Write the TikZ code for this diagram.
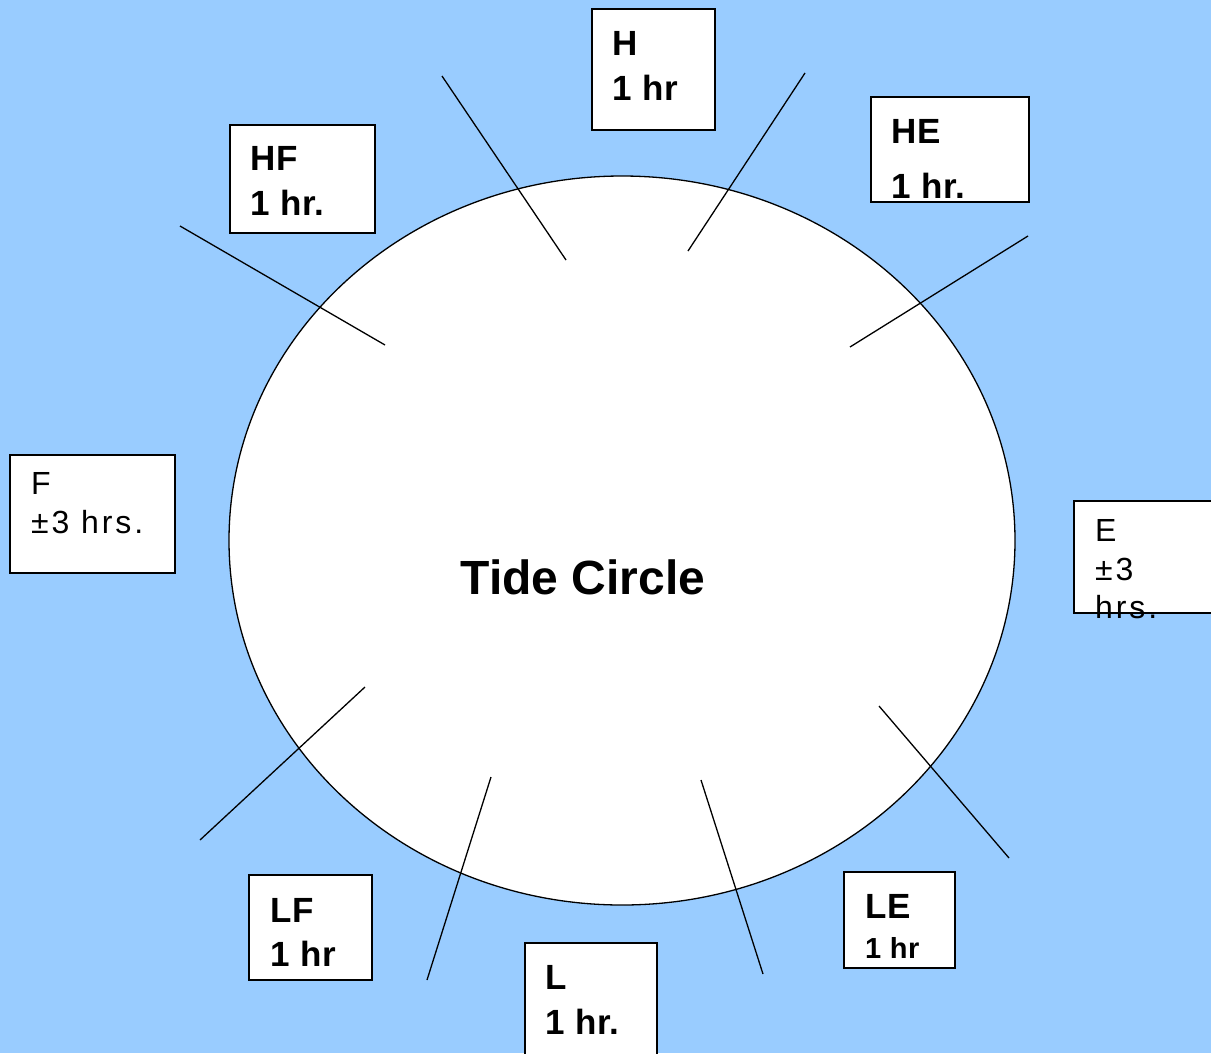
\documentclass[tikz,border=0pt]{standalone}
\usepackage{fontspec}
\setmainfont{Liberation Sans}
\usetikzlibrary{shapes.geometric}
\definecolor{skyblue}{HTML}{99CCFF}
\begin{document}
\begin{tikzpicture}[x=1pt,y=-1pt,
  box/.style={draw=black,line width=1.6pt,fill=white,anchor=north west,inner sep=0pt},
  bl/.style={anchor=base west,inner sep=0pt,font=\fontsize{35}{35}\selectfont\bfseries\addfontfeature{LetterSpace=2}},
  rl/.style={anchor=base west,inner sep=0pt,font=\fontsize{32}{32}\selectfont\addfontfeature{LetterSpace=9}},
  tick/.style={draw=black,line width=1.3pt}]
\fill[skyblue] (0,0) rectangle (1211,1053);
\useasboundingbox (0,0) rectangle (1211,1053);
% circle
\node[draw=black,line width=1.3pt,fill=white,ellipse,minimum width=786,minimum height=729,inner sep=0pt] (circ) at (622,540.5) {};
% boxes
\node[box,minimum width=123,minimum height=121] (bH) at (591,8) {};
\node[box,minimum width=158,minimum height=105] (bHE) at (870,96) {};
\node[box,minimum width=145,minimum height=108] (bHF) at (229,124) {};
\node[box,minimum width=165,minimum height=118] (bF) at (9,454) {};
\node[box,minimum width=150,minimum height=112] (bE) at (1073,500) {};
\node[box,minimum width=123,minimum height=105] (bLF) at (248,874) {};
\node[box,minimum width=132,minimum height=130] (bL) at (524,942) {};
\node[box,minimum width=111,minimum height=96] (bLE) at (843,871) {};
% labels
\node[bl] (tH1) at (612,55) {H};
\node[bl] (tH2) at (612,100) {1 hr};
\node[bl] (tHE1) at (891,143) {HE};
\node[bl] (tHE2) at (891,198) {1 hr.};
\node[bl] (tHF1) at (250,170) {HF};
\node[bl] (tHF2) at (250,215) {1 hr.};
\node[rl] (tF1) at (31,494) {F};
\node[rl] (tF2) at (31,533) {±3 hrs.};
\node[rl] (tE1) at (1095,541) {E};
\node[rl] (tE2) at (1095,580) {±3};
\node[rl] (tE3) at (1095,618) {hrs.};
\node[bl] (tLF1) at (270,922) {LF};
\node[bl] (tLF2) at (270,966) {1 hr};
\node[bl] (tL1) at (545,989) {L};
\node[bl] (tL2) at (545,1034) {1 hr.};
\node[bl] (tLE1) at (865,918) {LE};
\node[bl,font=\fontsize{29}{29}\selectfont\bfseries\addfontfeature{LetterSpace=2}] (tLE2) at (865,958) {1 hr};
\node[anchor=base,inner sep=0pt,font=\fontsize{48}{48}\selectfont\bfseries] (title) at (583,594) {Tide Circle};
% ticks
\coordinate (a1) at (442,76);  \coordinate (a2) at (566,260);
\coordinate (b1) at (805,73);  \coordinate (b2) at (688,251);
\coordinate (c1) at (1028,236); \coordinate (c2) at (850,347);
\coordinate (d1) at (180,226); \coordinate (d2) at (385,345);
\coordinate (e1) at (365,687); \coordinate (e2) at (200,840);
\coordinate (f1) at (491,777); \coordinate (f2) at (427,980);
\coordinate (g1) at (701,780); \coordinate (g2) at (763,974);
\coordinate (h1) at (879,706); \coordinate (h2) at (1009,858);
\draw[tick] (a1) -- (a2);
\draw[tick] (b1) -- (b2);
\draw[tick] (c1) -- (c2);
\draw[tick] (d1) -- (d2);
\draw[tick] (e1) -- (e2);
\draw[tick] (f1) -- (f2);
\draw[tick] (g1) -- (g2);
\draw[tick] (h1) -- (h2);
\end{tikzpicture}
\end{document}
